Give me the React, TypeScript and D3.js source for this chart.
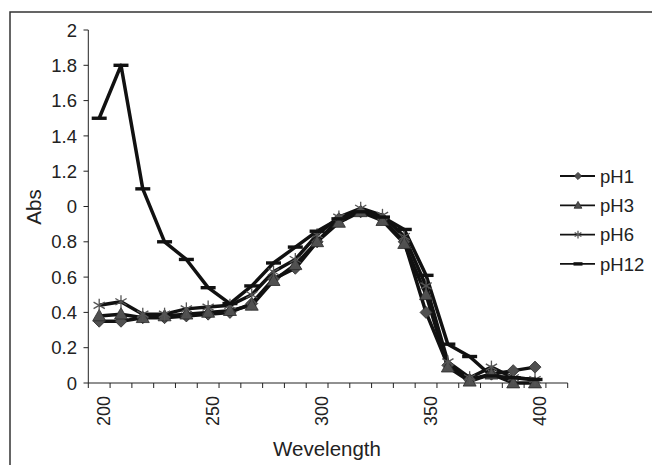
import React from "react";
import * as d3 from "d3";

const categories = [200, 210, 220, 230, 240, 250, 260, 270, 280, 290, 300, 310, 320, 330, 340, 350, 360, 370, 380, 390, 400, 410];
const xTickLabels = [200, 250, 300, 350, 400];
const yTickValues = [0, 0.2, 0.4, 0.6, 0.8, 1, 1.2, 1.4, 1.6, 1.8, 2];
const yTickLabels = ["0", "0.2", "0.4", "0.6", "0.8", "0", "1.2", "1.4", "1.6", "1.8", "2"];

const pH1 = [0.35, 0.35, 0.37, 0.37, 0.38, 0.39, 0.40, 0.45, 0.59, 0.65, 0.80, 0.93, 0.97, 0.93, 0.80, 0.40, 0.10, 0.02, 0.05, 0.07, 0.09];
const pH3 = [0.38, 0.39, 0.37, 0.38, 0.39, 0.40, 0.41, 0.44, 0.58, 0.67, 0.80, 0.91, 0.97, 0.92, 0.79, 0.50, 0.09, 0.01, 0.05, 0.0, 0.0];
const pH6 = [0.44, 0.46, 0.39, 0.39, 0.42, 0.43, 0.44, 0.50, 0.63, 0.70, 0.84, 0.94, 0.99, 0.95, 0.83, 0.55, 0.12, 0.03, 0.09, 0.03, 0.02];
const pH12 = [1.50, 1.80, 1.10, 0.80, 0.70, 0.54, 0.45, 0.55, 0.68, 0.77, 0.86, 0.93, 0.97, 0.94, 0.87, 0.61, 0.22, 0.15, 0.04, 0.03, 0.02];

const seriesNames = ["pH1", "pH3", "pH6", "pH12"];
const seriesValues = [pH1, pH3, pH6, pH12];
const seriesMarkers = ["diamond", "triangle", "asterisk", "dash"];

const FONT = "Liberation Sans, Arial, sans-serif";
const MARK_FILL = "#505050";
const MARK_STROKE = "#2a2a2a";

function Marker({ type, x, y, scale = 1 }: { type: string; x: number; y: number; scale?: number }) {
  const s = scale;
  if (type === "diamond") {
    const r = 6 * s;
    return <path d={`M${x},${y - r}L${x + r},${y}L${x},${y + r}L${x - r},${y}Z`} fill={MARK_FILL} stroke={MARK_STROKE} strokeWidth={0.8} />;
  }
  if (type === "triangle") {
    const r = 6.5 * s;
    return <path d={`M${x},${y - r}L${x + r},${y + r * 0.75}L${x - r},${y + r * 0.75}Z`} fill={MARK_FILL} stroke={MARK_STROKE} strokeWidth={0.8} />;
  }
  if (type === "asterisk") {
    const r = 6.5 * s;
    const angles = [90, 30, -30];
    return (
      <g stroke="#555" strokeWidth={1.3}>
        {angles.map((a) => {
          const rad = (a * Math.PI) / 180;
          const dx = Math.cos(rad) * r;
          const dy = Math.sin(rad) * r;
          return <line key={a} x1={x - dx} y1={y - dy} x2={x + dx} y2={y + dy} />;
        })}
      </g>
    );
  }
  const w = 7.5 * s;
  return <line x1={x - w} x2={x + w} y1={y} y2={y} stroke="#111" strokeWidth={3.4} />;
}

export default function App() {
  const x = d3.scaleBand<number>().domain(categories).range([88.3, 567.7]).padding(0);
  const y = d3.scaleLinear().domain([0, 2]).range([383, 30]);
  const cx = (i: number) => (x(categories[i]) as number) + x.bandwidth() / 2;

  const line = d3
    .line<number>()
    .x((_, i) => cx(i))
    .y((d) => y(d));

  const tickEdges = categories.map((c) => x(c) as number).concat([567.7]);

  return (
    <svg width={652} height={465} style={{ position: "absolute", left: 0, top: 0, background: "#fff" }} fontFamily={FONT}>
      <rect x={10} y={12} width={700} height={500} fill="none" stroke="#333" strokeWidth={1.5} />

      {/* y axis */}
      <line x1={88.3} x2={88.3} y1={y(2)} y2={y(0)} stroke="#222" strokeWidth={1} />
      {yTickValues.map((v, i) => (
        <g key={v}>
          <line x1={83.5} x2={88.3} y1={y(v)} y2={y(v)} stroke="#222" strokeWidth={1} />
          <text x={77} y={y(v)} dy="0.36em" textAnchor="end" fontSize={18.5} fill="#222">
            {yTickLabels[i]}
          </text>
        </g>
      ))}
      <text transform={`translate(41,207) rotate(-90)`} textAnchor="middle" fontSize={20.5} fill="#222">
        Abs
      </text>

      {/* x axis */}
      <line x1={88.3} x2={567.7} y1={y(0)} y2={y(0)} stroke="#222" strokeWidth={1} />
      {tickEdges.map((t, i) => (
        <line key={i} x1={t} x2={t} y1={y(0)} y2={y(0) + 5} stroke="#222" strokeWidth={1} />
      ))}
      {xTickLabels.map((c) => {
        const px = (x(c) as number) + x.bandwidth() / 2 + 10.5;
        return (
          <text key={c} transform={`translate(${px},396) rotate(-90)`} textAnchor="end" fontSize={18} fill="#222">
            {c}
          </text>
        );
      })}
      <text x={327} y={456} textAnchor="middle" fontSize={20.5} fill="#222">
        Wevelength
      </text>

      {/* series lines */}
      {seriesValues.map((vals, si) => (
        <path key={si} d={line(vals) || ""} fill="none" stroke="#111" strokeWidth={3.5} strokeLinejoin="round" />
      ))}
      {/* markers */}
      {seriesValues.map((vals, si) => (
        <g key={si}>
          {vals.map((v, i) => (
            <Marker key={i} type={seriesMarkers[si]} x={cx(i)} y={y(v)} />
          ))}
        </g>
      ))}

      {/* legend */}
      {seriesNames.map((name, i) => {
        const ly = 176 + i * 29.3;
        return (
          <g key={name}>
            <line x1={560} x2={595} y1={ly} y2={ly} stroke="#111" strokeWidth={1.8} />
            <Marker type={seriesMarkers[i]} x={578} y={ly} scale={0.6} />
            <text x={600} y={ly} dy="0.36em" fontSize={18.5} fill="#222">
              {name}
            </text>
          </g>
        );
      })}
    </svg>
  );
}
